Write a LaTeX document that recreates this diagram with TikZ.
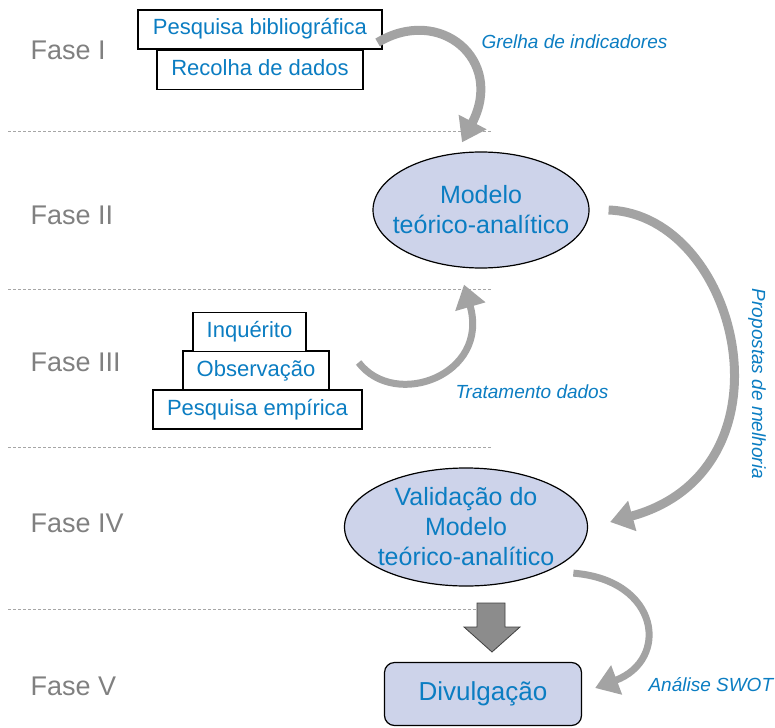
\documentclass[tikz,border=0pt]{standalone}
\usepackage{fontspec}
\setmainfont{Liberation Sans}
\usepackage{xcolor}
\usetikzlibrary{arrows.meta}
\usetikzlibrary{positioning}
\usetikzlibrary{shapes.geometric}

\definecolor{txtblue}{HTML}{0B7DC2}
\definecolor{fasegray}{HTML}{808080}
\definecolor{elfill}{HTML}{CDD3EA}
\definecolor{arrgray}{HTML}{A3A3A3}

\begin{document}
\begin{tikzpicture}[x=1pt,y=-1pt,
  fase/.style={anchor=west,text=fasegray,font=\fontsize{27}{32}\selectfont},
  sep/.style={fasegray!70,line width=0.8pt,dash pattern=on 3pt off 2pt},
  stepbox/.style={draw,line width=1.2pt,fill=white,text=txtblue,inner sep=0pt,
    minimum height=39pt,text height=16pt,text depth=5pt,font=\fontsize{22}{26}\selectfont},
  model/.style={ellipse,draw,line width=1.2pt,fill=elfill,inner sep=0pt},
  modeltext/.style={text=txtblue,align=center,font=\fontsize{25}{30}\selectfont},
  lbl/.style={anchor=west,text=txtblue,font=\fontsize{19}{23}\selectfont\itshape},
  curved/.style={draw=arrgray,line width=#1,-{Triangle[width=30pt,length=23pt]}}]
\useasboundingbox (0,0) rectangle (775,727);

% phase separators
\draw[sep] (8,131) -- (492,131);
\draw[sep] (8,289) -- (492,289);
\draw[sep] (8,447) -- (492,447);
\draw[sep] (8,609) -- (492,609);

\node[fase] (f1) at (27,50) {Fase I};
\node[fase] (f2) at (27,215) {Fase II};
\node[fase] (f3) at (27,362) {Fase III};
\node[fase] (f4) at (27,523) {Fase IV};
\node[fase] (f5) at (27,686) {Fase V};

% fase I
\node[stepbox,minimum width=244pt] (pb) at (260,29.5) {Pesquisa bibliográfica};
\node[stepbox,minimum width=206pt,below=0pt of pb] (rd) {Recolha de dados};

% fase II
\node[model,minimum width=216pt,minimum height=116pt,
  label={[modeltext]center:Modelo\\teórico-analítico}] (m1) at (481,210) {};

% fase III
\node[stepbox,minimum width=209pt] (pe) at (257.5,409.5) {Pesquisa empírica};
\node[stepbox,minimum width=146pt] (ob) at (256,370.5) {Observação};
\node[stepbox,minimum width=113pt] (inq) at (249.5,332) {Inquérito};

% fase IV
\node[model,minimum width=243pt,minimum height=118pt,
  label={[modeltext]center:Validação do\\Modelo\\teórico-analítico}] (v) at (466,527) {};

% fase V
\node[draw,line width=1.2pt,fill=elfill,rounded corners=10pt,minimum width=197pt,minimum height=63pt,
  text=txtblue,font=\fontsize{26}{30}\selectfont] (div) at (483,694) {Divulgação};

\fill[fill=black!45,draw=black!75,line width=0.8pt]
  (477,603) -- (505,603) -- (505,627) -- (520,627) -- (492,652) -- (464,627) -- (477,627) -- cycle;

% curved arrows
\draw[curved=9pt] ([shift={(-5,13)}]pb.east) .. controls (440,5) and (505,60) .. ([shift={(-19,-9)}]m1.north);
\draw[curved=7pt] ([shift={(29,-8)}]ob.east) .. controls (395,410) and (490,375) .. ([shift={(-17,16)}]m1.south);
\draw[curved=9pt] ([shift={(19,0)}]m1.east) .. controls (740,215) and (800,470) .. ([shift={(22,-5)}]v.east);
\draw[curved=7pt] ([shift={(21,4)}]v.south east) .. controls (660,580) and (670,660) .. ([shift={(13,-6)}]div.east);

\node[lbl] (gi) at (478,42) {Grelha de indicadores};
\node[lbl] (td) at (452,392) {Tratamento dados};
\node[lbl] (sw) at (645,685) {Análise SWOT};
\node[lbl,anchor=center,rotate=-90] (pm) at (757,384) {Propostas de melhoria};
\end{tikzpicture}
\end{document}
